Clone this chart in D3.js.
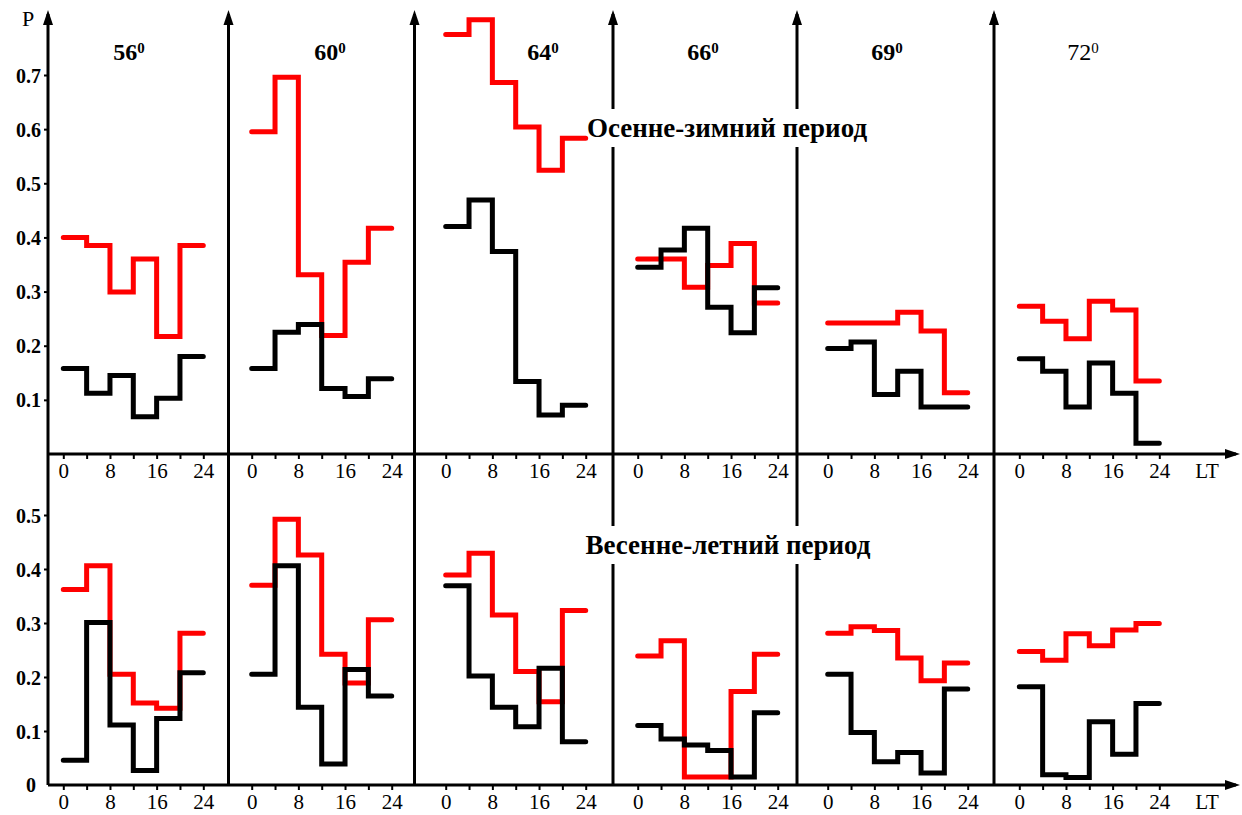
<!DOCTYPE html>
<html lang="ru">
<head>
  <meta charset="utf-8">
  <script src="https://d3js.org/d3.v7.min.js"></script>
  <style>
    html, body { margin: 0; padding: 0; background: #fff; }
    svg { display: block; }
    text { font-family: "Liberation Serif", "Times New Roman", serif; fill: #000; }
    .tick line { stroke: #000; stroke-width: 2px; }
  </style>
</head>
<body>
<svg id="chart" width="1242" height="815"></svg>
<script>
  // latitudes of the six panels
  var latitudes = ["56", "60", "64", "66", "69", "72"];
  // local time steps (4-hour bins)
  var hours = [0, 4, 8, 12, 16, 20, 24];
  var hourLabels = [0, 8, 16, 24];
  var topTicks = [0.1, 0.2, 0.3, 0.4, 0.5, 0.6, 0.7];
  var bottomTicks = [0, 0.1, 0.2, 0.3, 0.4, 0.5];

  // Осенне-зимний период
  var autumnRed = [
    [0.400, 0.385, 0.299, 0.360, 0.217, 0.385],
    [0.595, 0.696, 0.331, 0.219, 0.354, 0.417],
    [0.775, 0.802, 0.686, 0.604, 0.524, 0.583],
    [0.360, 0.360, 0.308, 0.348, 0.389, 0.279],
    [0.242, 0.242, 0.242, 0.262, 0.227, 0.113],
    [0.273, 0.245, 0.213, 0.282, 0.266, 0.135]
  ];
  var autumnBlack = [
    [0.158, 0.112, 0.145, 0.069, 0.103, 0.180],
    [0.158, 0.225, 0.239, 0.121, 0.106, 0.139],
    [0.420, 0.469, 0.374, 0.134, 0.072, 0.090],
    [0.345, 0.377, 0.417, 0.271, 0.224, 0.307],
    [0.195, 0.207, 0.110, 0.153, 0.087, 0.087],
    [0.176, 0.153, 0.087, 0.168, 0.112, 0.020]
  ];
  // Весенне-летний период
  var springRed = [
    [0.362, 0.406, 0.205, 0.152, 0.142, 0.281],
    [0.370, 0.492, 0.426, 0.242, 0.189, 0.306],
    [0.389, 0.429, 0.315, 0.210, 0.154, 0.323],
    [0.239, 0.267, 0.015, 0.015, 0.173, 0.242],
    [0.281, 0.293, 0.286, 0.235, 0.193, 0.226],
    [0.247, 0.231, 0.280, 0.258, 0.287, 0.299]
  ];
  var springBlack = [
    [0.046, 0.301, 0.111, 0.027, 0.123, 0.208],
    [0.205, 0.406, 0.144, 0.039, 0.214, 0.165],
    [0.369, 0.202, 0.144, 0.108, 0.216, 0.080],
    [0.110, 0.085, 0.074, 0.064, 0.015, 0.134],
    [0.205, 0.097, 0.043, 0.060, 0.022, 0.178],
    [0.182, 0.019, 0.014, 0.117, 0.057, 0.151]
  ];

  // layout
  var dividers = [48, 228.5, 414.5, 613, 797, 994];
  var panelStart = [63.3, 251.7, 445.7, 637.7, 827.7, 1019.3];
  var panelW = 140;
  var topY = 10, rightX = 1240;

  var yTop = d3.scaleLinear().domain([0, 0.7]).range([454, 75]);
  var yBot = d3.scaleLinear().domain([0, 0.5]).range([785, 515]);

  var svg = d3.select("#chart");

  // axis frame
  function arrowUp(x) {
    svg.append("path").attr("d", "M" + x + "," + topY + "L" + (x - 5) + "," + (topY + 15) + "L" + (x + 5) + "," + (topY + 15) + "Z")
      .attr("fill", "#000");
  }
  function arrowRight(y) {
    svg.append("path").attr("d", "M" + rightX + "," + y + "L" + (rightX - 15) + "," + (y - 5) + "L" + (rightX - 15) + "," + (y + 5) + "Z")
      .attr("fill", "#000");
  }

  dividers.forEach(function(x) {
    svg.append("line").attr("x1", x).attr("x2", x).attr("y1", topY + 4).attr("y2", yBot(0))
      .attr("stroke", "#000").attr("stroke-width", 3);
    arrowUp(x);
  });
  [yTop(0), yBot(0)].forEach(function(y) {
    svg.append("line").attr("x1", dividers[0]).attr("x2", rightX - 4).attr("y1", y).attr("y2", y)
      .attr("stroke", "#000").attr("stroke-width", 3);
    arrowRight(y);
  });

  // y axes
  var fmt = d3.format(".1f");
  var ya = svg.append("g").attr("transform", "translate(" + dividers[0] + ",0)")
    .call(d3.axisLeft(yTop).tickValues(topTicks).tickSize(4).tickPadding(3).tickFormat(fmt));
  var yb = svg.append("g").attr("transform", "translate(" + dividers[0] + ",0)")
    .call(d3.axisLeft(yBot).tickValues(bottomTicks).tickSize(4).tickPadding(3)
      .tickFormat(function(d) { return d === 0 ? "0" : fmt(d); }));
  [ya, yb].forEach(function(g) {
    g.select(".domain").remove();
    g.selectAll("text").style("font-size", "20px").style("font-weight", "bold").attr("dy", "0.35em");
  });
  yb.selectAll(".tick").filter(function(d) { return d === 0; }).select("line").remove();
  yb.selectAll(".tick").filter(function(d) { return d === 0; }).select("text").attr("x", -12).attr("dy", "0.3em");

  svg.append("text").attr("x", 28).attr("y", 26).attr("text-anchor", "middle")
    .style("font-size", "22px").text("P");

  // x axes for each panel
  latitudes.forEach(function(lat, i) {
    var x = d3.scaleLinear().domain([0, 24]).range([panelStart[i], panelStart[i] + panelW]);
    [yTop(0), yBot(0)].forEach(function(y0) {
      var g = svg.append("g").attr("transform", "translate(0," + y0 + ")")
        .call(d3.axisBottom(x).tickValues(hours).tickSize(5).tickPadding(4)
          .tickFormat(function(d) { return hourLabels.indexOf(d) >= 0 ? d : ""; }));
      g.select(".domain").remove();
      g.selectAll("text").style("font-size", "21px").attr("dy", "0.72em");
    });
  });
  [yTop(0), yBot(0)].forEach(function(y0) {
    svg.append("text").attr("x", 1207).attr("y", y0 + 24).attr("text-anchor", "middle")
      .style("font-size", "21px").text("LT");
  });

  // panel titles
  var titleX = [129, 330, 543, 703, 887, 1083];
  latitudes.forEach(function(lat, i) {
    var t = svg.append("text").attr("x", titleX[i]).attr("y", 60).attr("text-anchor", "middle")
      .style("font-size", "24px").style("font-weight", i === 5 ? "normal" : "bold");
    t.append("tspan").text(lat);
    t.append("tspan").attr("dy", -7).style("font-size", "15px").text("0");
  });

  // season labels with white box behind
  function seasonLabel(txt, cx, cy) {
    svg.append("rect").attr("x", cx - 146).attr("y", cy - 19).attr("width", 292).attr("height", 38).attr("fill", "#fff");
    svg.append("text").attr("x", cx).attr("y", cy + 9).attr("text-anchor", "middle")
      .style("font-size", "27px").style("font-weight", "bold").text(txt);
  }
  seasonLabel("Осенне-зимний период", 727, 128);
  seasonLabel("Весенне-летний период", 728, 545);

  // step lines
  function steps(vals, i, y) {
    var x = d3.scaleLinear().domain([0, 24]).range([panelStart[i], panelStart[i] + panelW]);
    var pts = hours.map(function(h, k) { return [h, vals[Math.min(k, vals.length - 1)]]; });
    return d3.line().curve(d3.curveStepAfter).x(function(d) { return x(d[0]); }).y(function(d) { return y(d[1]); })(pts);
  }
  var series = [
    {data: autumnRed, y: yTop, color: "#ff0000"},
    {data: springRed, y: yBot, color: "#ff0000"},
    {data: autumnBlack, y: yTop, color: "#000000"},
    {data: springBlack, y: yBot, color: "#000000"}
  ];
  series.forEach(function(s) {
    svg.append("g").selectAll("path").data(s.data).enter().append("path")
      .attr("d", function(d, i) { return steps(d, i, s.y); })
      .attr("fill", "none").attr("stroke", s.color).attr("stroke-width", 5)
      .attr("stroke-linecap", "round").attr("stroke-linejoin", "miter");
  });
</script>
</body>
</html>
